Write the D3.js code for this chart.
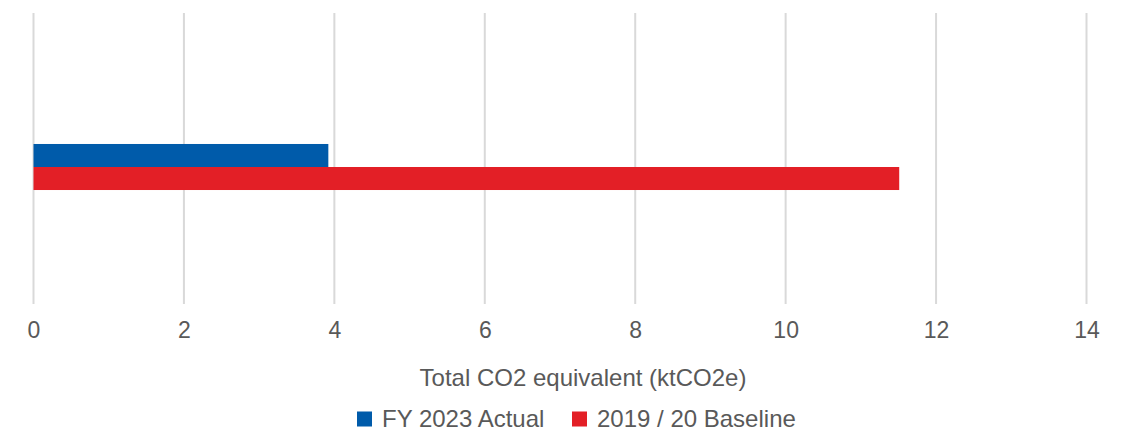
<!DOCTYPE html>
<html><head><meta charset="utf-8">
<script src="https://cdn.jsdelivr.net/npm/d3@7"></script>
<style>body{margin:0;background:#fff;}svg{display:block;font-family:"Liberation Sans",Arial,sans-serif;}</style>
</head><body><svg id="c" width="1125" height="432"></svg>
<script>
const categories = ["Total"];
const seriesNames = ["FY 2023 Actual", "2019 / 20 Baseline"];
const seriesColors = ["#005BAA", "#E31F26"];
const actual = [3.92];
const baseline = [11.51];
const xTicks = [0, 2, 4, 6, 8, 10, 12, 14];
const axisTitle = "Total CO2 equivalent (ktCO2e)";

const svg = d3.select("#c");
const x = d3.scaleLinear().domain([0, 14]).range([33.5, 1086.5]);
const gridTop = 13, gridBottom = 304;
const y = d3.scaleBand().domain(categories).range([22, 312]).paddingInner(0).paddingOuter(2.65);
const ySub = d3.scaleBand().domain(seriesNames).range([0, y.bandwidth()]);

// gridlines
svg.append("g").selectAll("line").data(xTicks).join("line")
  .attr("x1", d => x(d)).attr("x2", d => x(d))
  .attr("y1", gridTop).attr("y2", gridBottom)
  .attr("stroke", "#d9d9d9").attr("stroke-width", 2);

const data = [actual, baseline];
seriesNames.forEach((s, i) => {
  svg.append("g").selectAll("rect").data(categories).join("rect")
    .attr("x", x(0))
    .attr("y", c => y(c) + ySub(s))
    .attr("width", (c, j) => x(data[i][j]) - x(0))
    .attr("height", ySub.bandwidth())
    .attr("fill", seriesColors[i]);
});

// axis tick labels
const axis = d3.axisBottom(x).tickValues(xTicks).tickSize(0).tickPadding(0).tickFormat(d3.format("d"));
const ag = svg.append("g").attr("transform", `translate(0,${gridBottom})`).call(axis);
ag.select(".domain").remove();
ag.selectAll("text").attr("y", 25.5).attr("dy", "0.35em").attr("font-size", 23)
  .attr("fill", "#595959").attr("font-family", "Liberation Sans, Arial, sans-serif");

svg.append("text").attr("x", 583).attr("y", 378).attr("dy", "0.35em")
  .attr("text-anchor", "middle").attr("font-size", 24).attr("fill", "#595959").text(axisTitle);

// legend
const legendX = [357, 572];
const lg = svg.append("g");
seriesNames.forEach((s, i) => {
  lg.append("rect").attr("x", legendX[i]).attr("y", 411.5).attr("width", 15).attr("height", 15).attr("fill", seriesColors[i]);
  lg.append("text").attr("x", legendX[i] + 25).attr("y", 419).attr("dy", "0.35em")
    .attr("font-size", 24).attr("fill", "#595959").text(s);
});
</script></body></html>
